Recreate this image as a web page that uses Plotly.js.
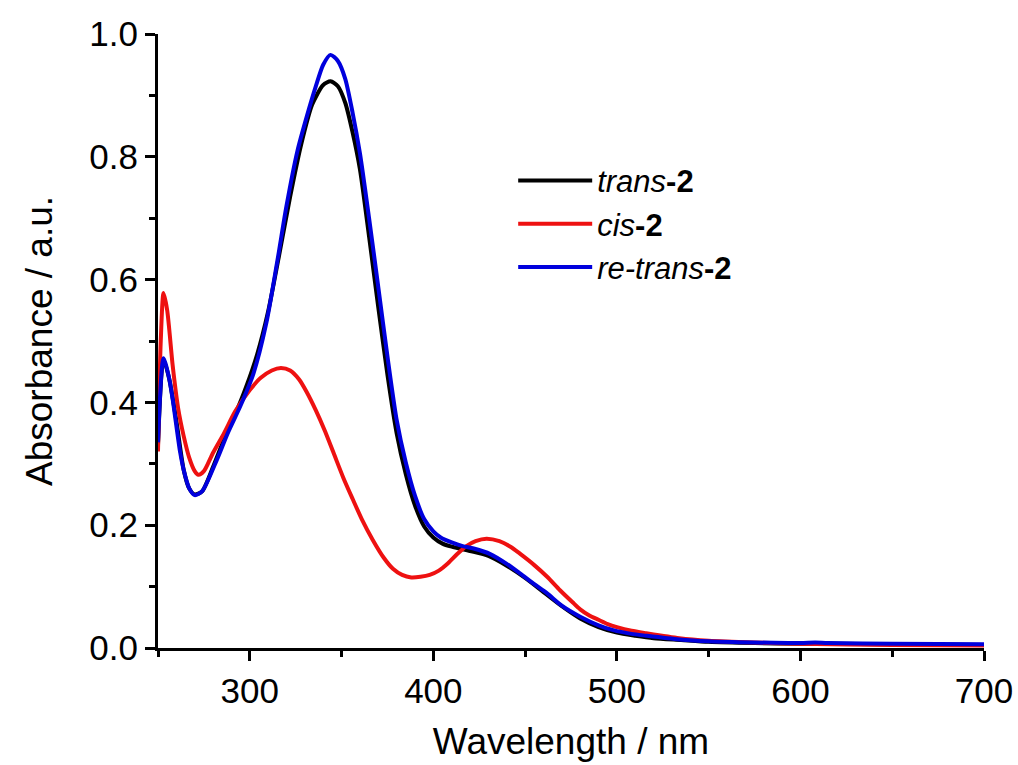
<!DOCTYPE html>
<html>
<head>
<meta charset="utf-8">
<script src="https://cdn.plot.ly/plotly-3.0.1.min.js"></script>
<style>html,body{margin:0;padding:0;background:#fff;}#chart{width:1018px;height:765px;}</style>
</head>
<body>
<div id="chart"></div>
<script>
// trans-2
const transX = [250,253,256,260,264,267,270,274,280,286,292,298,304,310,316,322,328,334,340,344,348,352,356,360,365,370,375,380,385,390,395,400,405,410,420,430,440,450,460,470,480,490,500,510,520,535,550,575,600,610,650,700];
const transY = [0.33,0.47,0.44,0.37,0.29,0.26,0.25,0.255,0.295,0.34,0.38,0.425,0.478,0.548,0.64,0.735,0.82,0.885,0.917,0.923,0.915,0.888,0.84,0.78,0.67,0.555,0.445,0.35,0.283,0.232,0.198,0.180,0.170,0.165,0.158,0.150,0.134,0.114,0.091,0.068,0.048,0.034,0.025,0.020,0.016,0.013,0.010,0.008,0.007,0.007,0.006,0.005];
// cis-2
const cisX = [250,251.5,253,255,258,261,264,267,270,272,275,280,286,292,300,306,312,317,322,327,331,336,341,346,351,356,361,367,373,378,383,388,393,398,403,408,413,418,423,429,436,442,447,455,462,469,476,480,485,490,495,500,508,516,534,550,575,600,650,700];
const cisY = [0.32,0.50,0.578,0.55,0.46,0.39,0.345,0.31,0.288,0.282,0.288,0.318,0.35,0.385,0.42,0.44,0.452,0.456,0.452,0.437,0.417,0.387,0.353,0.315,0.277,0.243,0.21,0.176,0.147,0.129,0.119,0.115,0.116,0.119,0.126,0.138,0.153,0.166,0.174,0.178,0.174,0.165,0.154,0.135,0.116,0.094,0.074,0.063,0.053,0.046,0.039,0.034,0.028,0.024,0.016,0.012,0.009,0.007,0.005,0.004];
// re-trans-2
const retransX = [250,253,256,258,262,264,267,270,274,282,288,295,302,309,315,320,326,331,336,340,344,348,352,356,360,365,370,375,380,385,390,395,400,404,410,416,422,431,440,447,455,462,470,480,490,498,508,516,534,550,575,600,608,615,650,700];
const retransY = [0.335,0.472,0.44,0.405,0.32,0.29,0.26,0.249,0.255,0.306,0.35,0.395,0.447,0.529,0.63,0.72,0.81,0.865,0.915,0.95,0.966,0.956,0.927,0.872,0.806,0.70,0.588,0.475,0.372,0.302,0.248,0.21,0.19,0.180,0.172,0.166,0.162,0.153,0.137,0.122,0.104,0.089,0.069,0.051,0.037,0.029,0.023,0.020,0.014,0.011,0.009,0.008,0.009,0.008,0.007,0.006];

const seriesNames = ['<i>trans</i><b>-2</b>','<i>cis</i><b>-2</b>','<i>re-trans</i><b>-2</b>'];
const seriesColors = ['#000000','#ee1111','#0000dd'];
const xTickVals = [300,400,500,600,700];
const yTickVals = [0,0.2,0.4,0.6,0.8,1.0];

const font = 'Arial, "Liberation Sans", sans-serif';
const mk = (x,y,i)=>({x:x,y:y,type:'scatter',mode:'lines',name:seriesNames[i],
  line:{color:seriesColors[i],width:4,shape:'spline',smoothing:0.7}});

const data = [mk(transX,transY,0), mk(cisX,cisY,1), mk(retransX,retransY,2)];

const layout = {
  width:1018, height:765,
  margin:{l:158,r:34,t:34,b:117,pad:0},
  paper_bgcolor:'#fff', plot_bgcolor:'#fff',
  font:{family:font,color:'#000',size:35},
  showlegend:true,
  legend:{x:0.43,y:0.805,xanchor:'left',yanchor:'top',font:{family:font,size:31,color:'#000'},
    bgcolor:'rgba(0,0,0,0)',tracegroupgap:0,itemwidth:74},
  xaxis:{range:[250,700],tickvals:xTickVals,ticks:'outside',ticklen:10,tickwidth:3,tickcolor:'#000',
    showline:true,linewidth:3,linecolor:'#000',showgrid:false,zeroline:false,
    tickfont:{size:35,family:font},
    minor:{ticks:'outside',ticklen:6,tickwidth:3,tickcolor:'#000',dtick:50,tick0:250,showgrid:false},
    title:{text:'Wavelength / nm',font:{size:37,family:font},standoff:20}},
  yaxis:{range:[0,1.0],tickvals:yTickVals,tickformat:'.1f',ticks:'outside',ticklen:10,tickwidth:3,tickcolor:'#000',
    showline:true,linewidth:3,linecolor:'#000',showgrid:false,zeroline:false,
    tickfont:{size:35,family:font},
    minor:{ticks:'outside',ticklen:6,tickwidth:3,tickcolor:'#000',dtick:0.1,tick0:0,showgrid:false},
    title:{text:'Absorbance / a.u.',font:{size:37,family:font},standoff:26}}
};
Plotly.newPlot('chart',data,layout,{displayModeBar:false,staticPlot:true});
</script>
</body>
</html>
